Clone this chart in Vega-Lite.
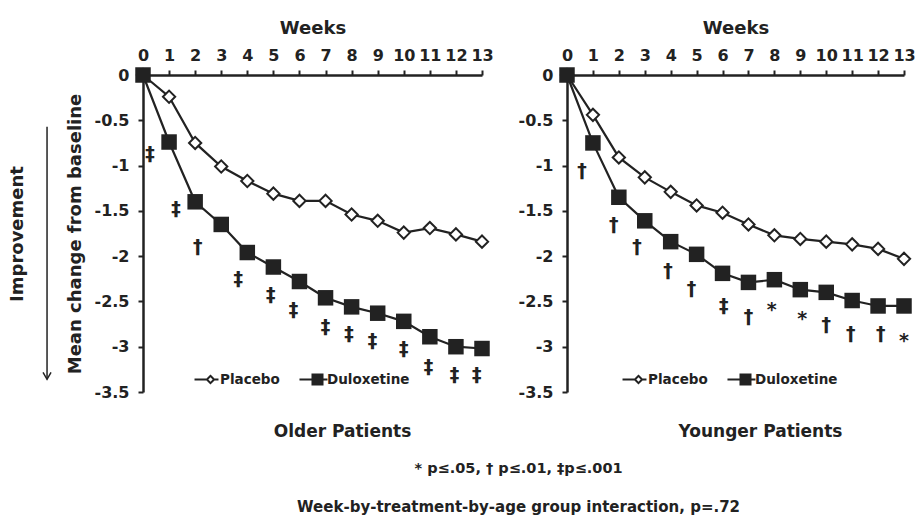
{
  "$schema": "https://vega.github.io/schema/vega-lite/v6.json",
  "background": "white",
  "padding": {"left": 8, "top": 19, "right": 5, "bottom": 0},
  "config": {
    "font": "DejaVu Sans",
    "view": {"stroke": null},
    "axis": {
      "grid": false,
      "domainColor": "#222",
      "domainWidth": 2.5,
      "tickColor": "#222",
      "tickWidth": 2,
      "tickSize": 5,
      "labelFont": "DejaVu Sans",
      "labelFontWeight": "bold",
      "labelFontSize": 16,
      "labelColor": "#222",
      "labelOverlap": false,
      "titleFont": "DejaVu Sans",
      "titleFontWeight": "bold",
      "titleFontSize": 18,
      "titleColor": "#222"
    },
    "legend": {
      "orient": "none",
      "direction": "horizontal",
      "labelFont": "DejaVu Sans",
      "labelFontWeight": "bold",
      "labelFontSize": 13.5,
      "labelColor": "#222",
      "symbolSize": 200,
      "symbolStrokeWidth": 0,
      "symbolFillColor": "#222",
      "symbolOpacity": 1,
      "labelOffset": 2,
      "columnPadding": 19
    }
  },
  "datasets": {
    "series": [
      {"panel": "Older", "treatment": "Placebo", "week": 0, "value": 0},
      {"panel": "Older", "treatment": "Placebo", "week": 1, "value": -0.24},
      {"panel": "Older", "treatment": "Placebo", "week": 2, "value": -0.75},
      {"panel": "Older", "treatment": "Placebo", "week": 3, "value": -1.01},
      {"panel": "Older", "treatment": "Placebo", "week": 4, "value": -1.17},
      {"panel": "Older", "treatment": "Placebo", "week": 5, "value": -1.31},
      {"panel": "Older", "treatment": "Placebo", "week": 6, "value": -1.39},
      {"panel": "Older", "treatment": "Placebo", "week": 7, "value": -1.39},
      {"panel": "Older", "treatment": "Placebo", "week": 8, "value": -1.54},
      {"panel": "Older", "treatment": "Placebo", "week": 9, "value": -1.61},
      {"panel": "Older", "treatment": "Placebo", "week": 10, "value": -1.74},
      {"panel": "Older", "treatment": "Placebo", "week": 11, "value": -1.69},
      {"panel": "Older", "treatment": "Placebo", "week": 12, "value": -1.76},
      {"panel": "Older", "treatment": "Placebo", "week": 13, "value": -1.84},
      {"panel": "Older", "treatment": "Duloxetine", "week": 0, "value": 0},
      {"panel": "Older", "treatment": "Duloxetine", "week": 1, "value": -0.74},
      {"panel": "Older", "treatment": "Duloxetine", "week": 2, "value": -1.40},
      {"panel": "Older", "treatment": "Duloxetine", "week": 3, "value": -1.65},
      {"panel": "Older", "treatment": "Duloxetine", "week": 4, "value": -1.96},
      {"panel": "Older", "treatment": "Duloxetine", "week": 5, "value": -2.12},
      {"panel": "Older", "treatment": "Duloxetine", "week": 6, "value": -2.28},
      {"panel": "Older", "treatment": "Duloxetine", "week": 7, "value": -2.46},
      {"panel": "Older", "treatment": "Duloxetine", "week": 8, "value": -2.56},
      {"panel": "Older", "treatment": "Duloxetine", "week": 9, "value": -2.63},
      {"panel": "Older", "treatment": "Duloxetine", "week": 10, "value": -2.72},
      {"panel": "Older", "treatment": "Duloxetine", "week": 11, "value": -2.89},
      {"panel": "Older", "treatment": "Duloxetine", "week": 12, "value": -3.00},
      {"panel": "Older", "treatment": "Duloxetine", "week": 13, "value": -3.02},
      {"panel": "Younger", "treatment": "Placebo", "week": 0, "value": 0},
      {"panel": "Younger", "treatment": "Placebo", "week": 1, "value": -0.44},
      {"panel": "Younger", "treatment": "Placebo", "week": 2, "value": -0.91},
      {"panel": "Younger", "treatment": "Placebo", "week": 3, "value": -1.13},
      {"panel": "Younger", "treatment": "Placebo", "week": 4, "value": -1.29},
      {"panel": "Younger", "treatment": "Placebo", "week": 5, "value": -1.44},
      {"panel": "Younger", "treatment": "Placebo", "week": 6, "value": -1.52},
      {"panel": "Younger", "treatment": "Placebo", "week": 7, "value": -1.65},
      {"panel": "Younger", "treatment": "Placebo", "week": 8, "value": -1.77},
      {"panel": "Younger", "treatment": "Placebo", "week": 9, "value": -1.81},
      {"panel": "Younger", "treatment": "Placebo", "week": 10, "value": -1.84},
      {"panel": "Younger", "treatment": "Placebo", "week": 11, "value": -1.87},
      {"panel": "Younger", "treatment": "Placebo", "week": 12, "value": -1.92},
      {"panel": "Younger", "treatment": "Placebo", "week": 13, "value": -2.03},
      {"panel": "Younger", "treatment": "Duloxetine", "week": 0, "value": 0},
      {"panel": "Younger", "treatment": "Duloxetine", "week": 1, "value": -0.75},
      {"panel": "Younger", "treatment": "Duloxetine", "week": 2, "value": -1.35},
      {"panel": "Younger", "treatment": "Duloxetine", "week": 3, "value": -1.61},
      {"panel": "Younger", "treatment": "Duloxetine", "week": 4, "value": -1.84},
      {"panel": "Younger", "treatment": "Duloxetine", "week": 5, "value": -1.98},
      {"panel": "Younger", "treatment": "Duloxetine", "week": 6, "value": -2.19},
      {"panel": "Younger", "treatment": "Duloxetine", "week": 7, "value": -2.29},
      {"panel": "Younger", "treatment": "Duloxetine", "week": 8, "value": -2.26},
      {"panel": "Younger", "treatment": "Duloxetine", "week": 9, "value": -2.37},
      {"panel": "Younger", "treatment": "Duloxetine", "week": 10, "value": -2.40},
      {"panel": "Younger", "treatment": "Duloxetine", "week": 11, "value": -2.49},
      {"panel": "Younger", "treatment": "Duloxetine", "week": 12, "value": -2.55},
      {"panel": "Younger", "treatment": "Duloxetine", "week": 13, "value": -2.55}
    ],
    "sig": [
      {"panel": "Older", "sym": "‡", "week": 0.27, "value": -0.87},
      {"panel": "Older", "sym": "‡", "week": 1.27, "value": -1.48},
      {"panel": "Older", "sym": "†", "week": 2.1, "value": -1.90},
      {"panel": "Older", "sym": "‡", "week": 3.65, "value": -2.25},
      {"panel": "Older", "sym": "‡", "week": 4.9, "value": -2.43},
      {"panel": "Older", "sym": "‡", "week": 5.77, "value": -2.60},
      {"panel": "Older", "sym": "‡", "week": 7.0, "value": -2.78},
      {"panel": "Older", "sym": "‡", "week": 7.9, "value": -2.86},
      {"panel": "Older", "sym": "‡", "week": 8.8, "value": -2.94},
      {"panel": "Older", "sym": "‡", "week": 10.0, "value": -3.02},
      {"panel": "Older", "sym": "‡", "week": 10.95, "value": -3.22},
      {"panel": "Older", "sym": "‡", "week": 11.95, "value": -3.31},
      {"panel": "Older", "sym": "‡", "week": 12.8, "value": -3.31},
      {"panel": "Younger", "sym": "†", "week": 0.58, "value": -1.06},
      {"panel": "Younger", "sym": "†", "week": 1.8, "value": -1.66},
      {"panel": "Younger", "sym": "†", "week": 2.7, "value": -1.90},
      {"panel": "Younger", "sym": "†", "week": 3.9, "value": -2.16},
      {"panel": "Younger", "sym": "†", "week": 4.8, "value": -2.36},
      {"panel": "Younger", "sym": "‡", "week": 6.05, "value": -2.55},
      {"panel": "Younger", "sym": "†", "week": 7.0, "value": -2.67},
      {"panel": "Younger", "sym": "*", "week": 7.9, "value": -2.60},
      {"panel": "Younger", "sym": "*", "week": 9.07, "value": -2.69},
      {"panel": "Younger", "sym": "†", "week": 10.0, "value": -2.76},
      {"panel": "Younger", "sym": "†", "week": 10.95, "value": -2.86},
      {"panel": "Younger", "sym": "†", "week": 12.1, "value": -2.86},
      {"panel": "Younger", "sym": "*", "week": 13.0, "value": -2.94}
    ]
  },
  "title": {
    "text": "* p≤.05, † p≤.01, ‡p≤.001",
    "subtitle": "Week-by-treatment-by-age group interaction, p=.72",
    "orient": "bottom",
    "anchor": "middle",
    "dx": 57,
    "offset": 22,
    "font": "DejaVu Sans",
    "fontSize": 14.5,
    "fontWeight": "bold",
    "color": "#222",
    "subtitleFont": "DejaVu Sans",
    "subtitleFontSize": 15,
    "subtitleFontWeight": "bold",
    "subtitleColor": "#222",
    "subtitlePadding": 23
  },
  "spacing": 24,
  "resolve": {
    "scale": {"x": "independent", "y": "independent", "shape": "independent"},
    "legend": {"shape": "independent"}
  },
  "hconcat": [
    {
      "width": 339,
      "height": 317,
      "title": {"text": "Older Patients", "orient": "bottom", "anchor": "middle", "frame": "group", "dx": 30, "offset": 24, "fontSize": 17, "fontWeight": "bold", "font": "DejaVu Sans", "color": "#222"},
      "resolve": {"axis": {"x": "independent"}},
      "layer": [
        {
          "data": {"name": "series"},
          "transform": [{"filter": "datum.panel == 'Older'"}],
          "mark": {"type": "line", "color": "#222", "strokeWidth": 2.2},
          "encoding": {
            "x": {"field": "week", "type": "quantitative", "scale": {"domain": [0, 13], "nice": false},
              "axis": {"orient": "top", "values": [0,2,4,6,8,10,12], "title": "Weeks", "labelPadding": 7, "titlePadding": 10, "labelFlush": false}},
            "y": {"field": "value", "type": "quantitative", "scale": {"domain": [-3.5, 0], "nice": false},
              "axis": {"values": [0,-0.5,-1,-1.5,-2,-2.5,-3,-3.5], "title": ["Improvement", "Mean change from baseline"], "titleLineHeight": 58, "titleFontSize": 18, "titlePadding": 10, "labelPadding": 9, "labelFlush": false,
                "labelExpr": "datum.value == 0 ? '0' : '-' + format(-datum.value, '~g')"}},
            "detail": {"field": "treatment"}
          }
        },
        {
          "data": {"name": "series"},
          "transform": [{"filter": "datum.panel == 'Older' && datum.treatment == 'Placebo'"}],
          "mark": {"type": "point", "shape": "diamond", "filled": true, "fill": "white", "stroke": "#222", "strokeWidth": 2, "size": 150, "opacity": 1},
          "encoding": {"x": {"field": "week", "type": "quantitative", "axis": {"orient": "top", "values": [1,3,5,7,9,11,13], "title": null, "domain": false, "labelPadding": 7, "labelFlush": false}}, "y": {"field": "value", "type": "quantitative"}}
        },
        {
          "data": {"name": "series"},
          "transform": [{"filter": "datum.panel == 'Older' && datum.treatment == 'Duloxetine'"}],
          "mark": {"type": "point", "shape": "square", "filled": true, "fill": "#222", "size": 240, "opacity": 1},
          "encoding": {"x": {"field": "week", "type": "quantitative", "axis": null}, "y": {"field": "value", "type": "quantitative"}}
        },
        {
          "data": {"name": "sig"},
          "transform": [{"filter": "datum.panel == 'Older'"}],
          "mark": {"type": "text", "font": "DejaVu Sans", "fontWeight": "bold", "fontSize": 19, "color": "#222", "baseline": "middle", "align": "center"},
          "encoding": {"x": {"field": "week", "type": "quantitative", "axis": null}, "y": {"field": "value", "type": "quantitative"}, "text": {"field": "sym"}}
        },
        {
          "data": {"values": [{}]},
          "mark": {"type": "rule", "stroke": "#222", "strokeWidth": 1.5},
          "encoding": {"x": {"datum": -3.68, "axis": null}, "y": {"datum": -0.57}, "y2": {"datum": -3.36}}
        },
        {
          "data": {"values": [{}]},
          "mark": {"type": "point", "shape": "M-1,-1.75L0,0L1,-1.75", "filled": false, "stroke": "#222", "strokeWidth": 1.5, "size": 64, "opacity": 1},
          "encoding": {"x": {"datum": -3.68, "axis": null}, "y": {"datum": -3.36}}
        },
        {
          "data": {"name": "series"},
          "transform": [{"filter": "false"}],
          "mark": {"type": "point", "filled": true, "color": "#222", "opacity": 1},
          "encoding": {
            "shape": {"field": "treatment", "type": "nominal",
              "scale": {"domain": ["Placebo", "Duloxetine"], "range": ["M-2.26,-0.14L-0.6,-0.14L-0.6,0.14L-2.26,0.14ZM0.6,-0.14L1.13,-0.14L1.13,0.14L0.6,0.14ZM0,-0.71L0.71,0L0,0.71L-0.71,0ZM0,-0.31L-0.31,0L0,0.31L0.31,0Z", "M-2.55,-0.14L-0.8,-0.14L-0.8,0.14L-2.55,0.14ZM0.8,-0.14L1.41,-0.14L1.41,0.14L0.8,0.14ZM-0.85,-0.85L0.85,-0.85L0.85,0.85L-0.85,0.85Z"]},
              "legend": {"legendX": 60, "legendY": 297, "title": null}}
          }
        }
      ]
    },
    {
      "width": 337,
      "height": 317,
      "title": {"text": "Younger Patients", "orient": "bottom", "anchor": "middle", "frame": "group", "dx": 25, "offset": 24, "fontSize": 17, "fontWeight": "bold", "font": "DejaVu Sans", "color": "#222"},
      "resolve": {"axis": {"x": "independent"}},
      "layer": [
        {
          "data": {"name": "series"},
          "transform": [{"filter": "datum.panel == 'Younger'"}],
          "mark": {"type": "line", "color": "#222", "strokeWidth": 2.2},
          "encoding": {
            "x": {"field": "week", "type": "quantitative", "scale": {"domain": [0, 13], "nice": false},
              "axis": {"orient": "top", "values": [0,2,4,6,8,10,12], "title": "Weeks", "labelPadding": 7, "titlePadding": 10, "labelFlush": false}},
            "y": {"field": "value", "type": "quantitative", "scale": {"domain": [-3.5, 0], "nice": false},
              "axis": {"values": [0,-0.5,-1,-1.5,-2,-2.5,-3,-3.5], "title": null, "labelPadding": 9, "labelFlush": false,
                "labelExpr": "datum.value == 0 ? '0' : '-' + format(-datum.value, '~g')"}},
            "detail": {"field": "treatment"}
          }
        },
        {
          "data": {"name": "series"},
          "transform": [{"filter": "datum.panel == 'Younger' && datum.treatment == 'Placebo'"}],
          "mark": {"type": "point", "shape": "diamond", "filled": true, "fill": "white", "stroke": "#222", "strokeWidth": 2, "size": 150, "opacity": 1},
          "encoding": {"x": {"field": "week", "type": "quantitative", "axis": {"orient": "top", "values": [1,3,5,7,9,11,13], "title": null, "domain": false, "labelPadding": 7, "labelFlush": false}}, "y": {"field": "value", "type": "quantitative"}}
        },
        {
          "data": {"name": "series"},
          "transform": [{"filter": "datum.panel == 'Younger' && datum.treatment == 'Duloxetine'"}],
          "mark": {"type": "point", "shape": "square", "filled": true, "fill": "#222", "size": 240, "opacity": 1},
          "encoding": {"x": {"field": "week", "type": "quantitative", "axis": null}, "y": {"field": "value", "type": "quantitative"}}
        },
        {
          "data": {"name": "sig"},
          "transform": [{"filter": "datum.panel == 'Younger'"}],
          "mark": {"type": "text", "font": "DejaVu Sans", "fontWeight": "bold", "fontSize": 19, "color": "#222", "baseline": "middle", "align": "center"},
          "encoding": {"x": {"field": "week", "type": "quantitative", "axis": null}, "y": {"field": "value", "type": "quantitative"}, "text": {"field": "sym"}}
        },
        {
          "data": {"name": "series"},
          "transform": [{"filter": "false"}],
          "mark": {"type": "point", "filled": true, "color": "#222", "opacity": 1},
          "encoding": {
            "shape": {"field": "treatment", "type": "nominal",
              "scale": {"domain": ["Placebo", "Duloxetine"], "range": ["M-2.26,-0.14L-0.6,-0.14L-0.6,0.14L-2.26,0.14ZM0.6,-0.14L1.13,-0.14L1.13,0.14L0.6,0.14ZM0,-0.71L0.71,0L0,0.71L-0.71,0ZM0,-0.31L-0.31,0L0,0.31L0.31,0Z", "M-2.55,-0.14L-0.8,-0.14L-0.8,0.14L-2.55,0.14ZM0.8,-0.14L1.41,-0.14L1.41,0.14L0.8,0.14ZM-0.85,-0.85L0.85,-0.85L0.85,0.85L-0.85,0.85Z"]},
              "legend": {"legendX": 64, "legendY": 297, "title": null}}
          }
        }
      ]
    }
  ]
}
